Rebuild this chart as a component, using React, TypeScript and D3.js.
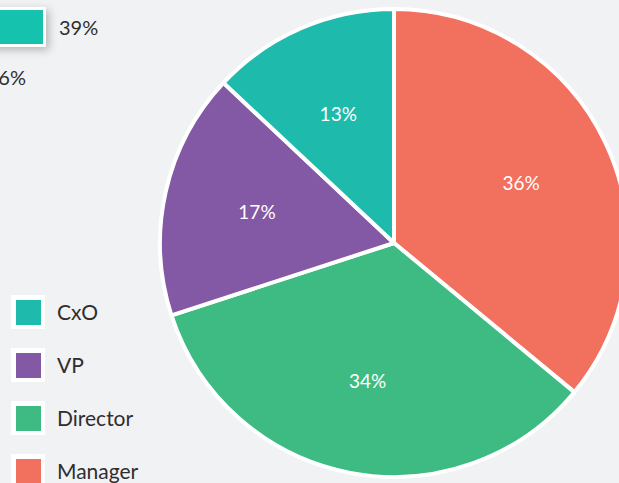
import React from "react";
import * as d3 from "d3";

const categories = ["Manager", "Director", "VP", "CxO"];
const values = [36, 34, 17, 13];
const colors = ["#f2705e", "#3dbb82", "#8358a4", "#1ebbad"];
const legendOrder = ["CxO", "VP", "Director", "Manager"];
const strayLabels = ["39%", "6%"];

const W = 619;
const H = 483;

export default function App() {
  const cx = 394;
  const cy = 243;
  const R = 234;
  const data = categories.map((c, i) => ({ name: c, value: values[i], color: colors[i] }));
  const pie = d3.pie<any>().sort(null).value((d: any) => d.value).startAngle(0).endAngle(2 * Math.PI);
  const arcs = pie(data);
  const arc = d3.arc<any>().innerRadius(0).outerRadius(R);
  const labelArc = d3.arc<any>().innerRadius(R * 0.6).outerRadius(R * 0.6);
  const total = d3.sum(values);
  const colorOf = (n: string) => colors[categories.indexOf(n)];
  const font = "Lato, 'Open Sans', sans-serif";

  return (
    <svg width={W} height={H} style={{ position: "absolute", left: 0, top: 0 }}>
      <defs>
        <filter id="sh" x="-50%" y="-50%" width="200%" height="200%">
          <feDropShadow dx="3" dy="3" stdDeviation="4" floodColor="#000" floodOpacity="0.25" />
        </filter>
      </defs>
      <rect x={0} y={0} width={W} height={H} fill="#f1f2f4" />
      <g transform={`translate(${cx},${cy})`}>
        {arcs.map((a, i) => (
          <path key={i} d={arc(a) as string} fill={a.data.color} stroke="#fff" strokeWidth={4} strokeLinejoin="round" />
        ))}
        {arcs.map((a, i) => {
          const [x, y] = labelArc.centroid(a);
          return (
            <text key={"l" + i} x={x} y={y} dy="0.35em" textAnchor="middle" fill="#fff" fontSize={19} fontFamily={font}>
              {Math.round((a.data.value / total) * 100)}%
            </text>
          );
        })}
      </g>
      <g>
        <rect x={-20} y={7} width={66} height={40} fill="#fff" filter="url(#sh)" />
        <rect x={-20} y={10} width={63} height={34} fill="#14c2ae" />
        <text x={59} y={28} dy="0.35em" fontSize={20} fill="#2e2e2e" fontFamily={font}>{strayLabels[0]}</text>
        <text x={26} y={78} dy="0.35em" textAnchor="end" fontSize={20} fill="#2e2e2e" fontFamily={font}>{strayLabels[1]}</text>
      </g>
      <g>
        {legendOrder.map((n, i) => {
          const y = 295 + i * 53;
          return (
            <g key={n} transform={`translate(11,${y})`}>
              <rect x={0} y={0} width={34} height={34} fill="#fff" />
              <rect x={5} y={5} width={25} height={25} fill={colorOf(n)} />
              <text x={46} y={18} dy="0.35em" fontSize={21} fill="#2e2e2e" fontFamily={font}>{n}</text>
            </g>
          );
        })}
      </g>
    </svg>
  );
}
